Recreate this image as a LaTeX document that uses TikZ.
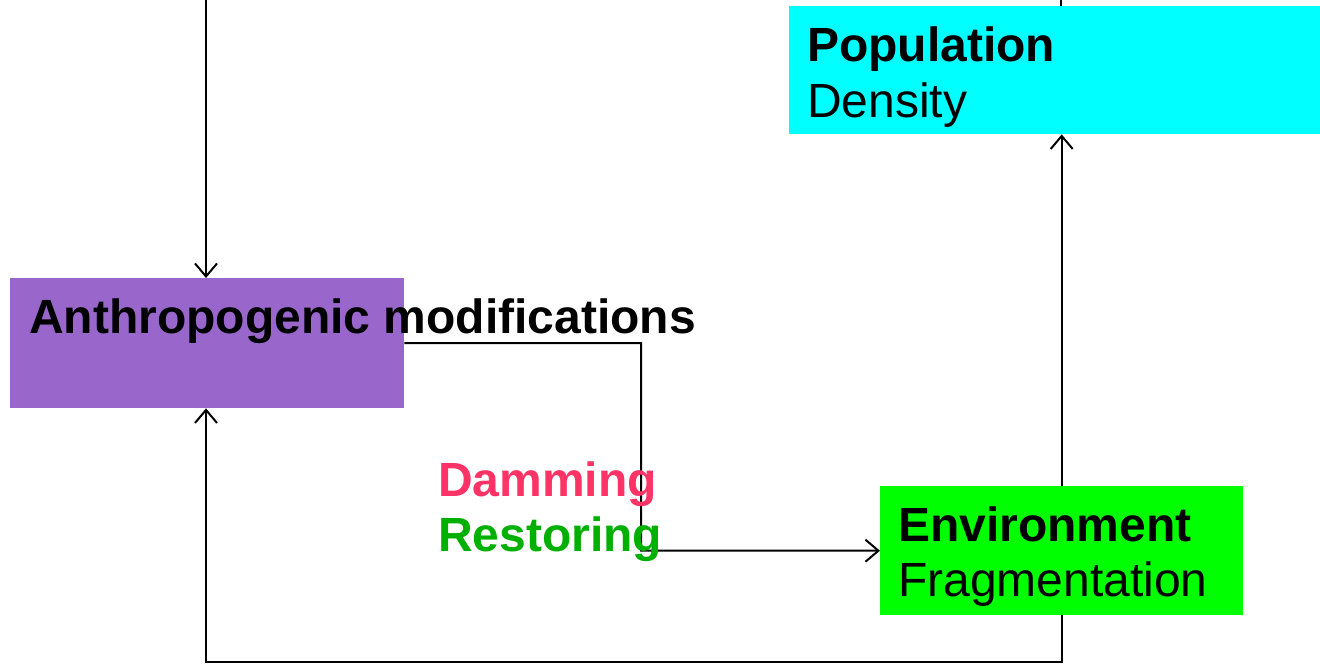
\documentclass[tikz,border=0pt]{standalone}
\usepackage{fontspec}
\setmainfont{Liberation Sans}
\usetikzlibrary{arrows.meta}
\definecolor{boxpurple}{HTML}{9966CC}
\definecolor{boxcyan}{HTML}{00FFFF}
\definecolor{boxgreen}{HTML}{00FF00}
\definecolor{dampink}{HTML}{FF3366}
\definecolor{resgreen}{HTML}{00B000}
\tikzset{
  box/.style={rectangle, draw=none, inner sep=0pt, anchor=north west},
  lbl/.style={anchor=base west, inner sep=0pt, font=\fontsize{48}{56}\selectfont},
  conn/.style={line width=2pt, black},
  arr/.style={conn, -{Straight Barb[length=13pt,width=22pt,line width=2pt]}}
}
\begin{document}
\begin{tikzpicture}[x=1pt,y=-1pt]
\useasboundingbox (0,0) rectangle (1320,664);
% boxes
\node[box, fill=boxcyan, minimum width=531pt, minimum height=128pt] (pop) at (789,6) {};
\node[box, fill=boxpurple, minimum width=394pt, minimum height=130pt] (anthro) at (10,278) {};
\node[box, fill=boxgreen, minimum width=363pt, minimum height=129pt] (env) at (880,486) {};
% connector helper coordinates
\coordinate (topL) at (206,0);
\coordinate (topR) at (1061,0);
\coordinate (c1) at (641,343);
\coordinate (c2) at (206,662);
% connectors
\draw[arr] (topL) -- (topL |- anthro.north);
\draw[conn] (topR) -- (topR |- pop.north);
\draw[arr] (anthro.east) -- (c1) -- (c1 |- env.west) -- (env.west);
\draw[arr] (env.north) -- (env.north |- pop.south);
\draw[arr] (env.south) -- (env.south |- c2) -- (c2) -- (c2 |- anthro.south);
% texts
\node[lbl, font=\fontsize{48}{56}\selectfont\bfseries] (popT) at (807,61) {Population};
\node[lbl] (popD) at (807,117) {Density};
\node[lbl, font=\fontsize{48}{56}\selectfont\bfseries] (anthroT) at (29,333) {Anthropogenic modifications};
\node[lbl, font=\fontsize{48}{56}\selectfont\bfseries, text=dampink] (dam) at (438,496) {Damming};
\node[lbl, font=\fontsize{48}{56}\selectfont\bfseries, text=resgreen] (res) at (438,551) {Restoring};
\node[lbl, font=\fontsize{48}{56}\selectfont\bfseries] (envT) at (898,541) {Environment};
\node[lbl] (envF) at (898,596) {Fragmentation};
\end{tikzpicture}
\end{document}
